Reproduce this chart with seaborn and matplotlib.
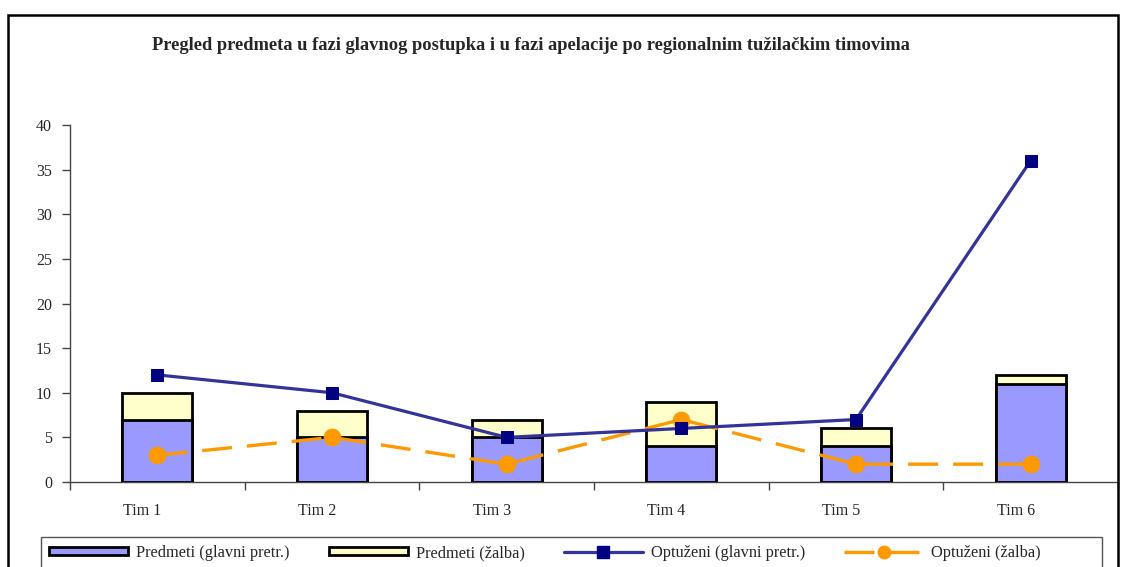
import numpy as np
import pandas as pd
import seaborn as sns
import matplotlib.pyplot as plt
from matplotlib.patches import Patch, Rectangle
from matplotlib.lines import Line2D
from matplotlib.transforms import ScaledTranslation

teams = ["Tim 1", "Tim 2", "Tim 3", "Tim 4", "Tim 5", "Tim 6"]
predmeti_glavni = [7, 5, 5, 4, 4, 11]
predmeti_zalba = [3, 3, 2, 5, 2, 1]
optuzeni_glavni = [12, 10, 5, 6, 7, 36]
optuzeni_zalba = [3, 5, 2, 7, 2, 2]

title = "Pregled predmeta u fazi glavnog postupka i u fazi apelacije po regionalnim tužilačkim timovima"
labels = ["Predmeti (glavni pretr.)", "Predmeti (žalba)",
          "Optuženi (glavni pretr.)", "Optuženi (žalba)"]

sns.set_style("white")
plt.rcParams["font.family"] = ["Liberation Serif", "DejaVu Serif"]

df = pd.DataFrame({
    "tim": teams,
    "glavni": predmeti_glavni,
    "ukupno": np.array(predmeti_glavni) + np.array(predmeti_zalba),
    "opt_glavni": optuzeni_glavni,
    "opt_zalba": optuzeni_zalba,
})

blue_bar = "#9999FF"
yellow_bar = "#FFFFCC"
navy_line = "#333399"
navy_mark = "#000080"
orange = "#FF9900"

fig = plt.figure(figsize=(11.28, 5.67), dpi=100)
ax = fig.add_axes([70 / 1128, 1 - 482 / 567, (1118 - 70) / 1128, (482 - 125) / 567])

# stacked bars: total (yellow) drawn first, glavni (blue) over it
sns.barplot(data=df, x="tim", y="ukupno", color=yellow_bar, saturation=1,
            width=0.4, edgecolor="black", linewidth=2, ax=ax, zorder=2)
sns.barplot(data=df, x="tim", y="glavni", color=blue_bar, saturation=1,
            width=0.4, edgecolor="black", linewidth=2, ax=ax, zorder=3)

sns.lineplot(data=df, x="tim", y="opt_glavni", sort=False, color=navy_line,
             linewidth=2.3, marker="s", markersize=8, markerfacecolor=navy_mark,
             markeredgecolor=navy_mark, ax=ax, zorder=5)
sns.lineplot(data=df, x="tim", y="opt_zalba", sort=False, color=orange,
             linewidth=2.4, dashes=(9, 4.5), marker="o", markersize=12,
             markerfacecolor=orange, markeredgecolor=orange, ax=ax, zorder=4)

ax.set_xlim(-0.5, len(teams) - 0.5)
ax.set_ylim(0, 40)
ax.set_yticks(np.arange(0, 41, 5))
ax.set_xticks(np.arange(-0.5, len(teams), 1))
ax.set_xticklabels([])
ax.set_xticks(np.arange(len(teams)), minor=True)
ax.set_xticklabels(teams, minor=True)
ax.set_xlabel("")
ax.set_ylabel("")

ax.tick_params(axis="y", which="major", direction="out", length=6, width=1,
               color="#444444", labelsize=11.5, pad=7, left=True)
ax.tick_params(axis="x", which="major", direction="out", length=6, width=1,
               color="#444444", bottom=True)
ax.tick_params(axis="x", which="minor", length=0, labelsize=11.5, pad=15)
for lab in ax.get_xticklabels(minor=True):
    lab.set_transform(lab.get_transform() + ScaledTranslation(-0.15, 0, fig.dpi_scale_trans))

sns.despine(ax=ax, top=True, right=True)
for side in ["left", "bottom"]:
    ax.spines[side].set_color("#444444")
    ax.spines[side].set_linewidth(1)

fig.text(531 / 1128, 1 - 45 / 567, title, ha="center", va="center",
         fontsize=13.3, fontweight="bold")

handles = [
    Patch(facecolor=blue_bar, edgecolor="black", linewidth=2),
    Patch(facecolor=yellow_bar, edgecolor="black", linewidth=2),
    Line2D([], [], color=navy_line, linewidth=2.3, marker="s", markersize=8,
           markerfacecolor=navy_mark, markeredgecolor=navy_mark),
    Line2D([], [], color=orange, linewidth=2.4, dashes=(9, 4.5), marker="o",
           markersize=9, markerfacecolor=orange, markeredgecolor=orange),
]
leg = fig.legend(handles, labels, loc="upper left",
                 bbox_to_anchor=(41 / 1128, 1 - 537 / 567), ncol=4,
                 frameon=False, fontsize=11.8, handlelength=4.8,
                 handleheight=0.4, handletextpad=0.5, columnspacing=2.4,
                 borderpad=0.5, borderaxespad=0)

# legend box runs wider than the entries and past the bottom edge
leg_box = Rectangle((41 / 1128, -0.05), (1102 - 41) / 1128, 0.05 + 1 - 537 / 567,
                    transform=fig.transFigure, fill=False, edgecolor="#555555",
                    linewidth=1)
fig.add_artist(leg_box)

border = Rectangle((8 / 1128, -0.05), (1118 - 8) / 1128, 1 - 15 / 567 + 0.05,
                   transform=fig.transFigure, fill=False, edgecolor="black",
                   linewidth=1.8)
fig.add_artist(border)

fig.savefig("out.png", dpi=100)
